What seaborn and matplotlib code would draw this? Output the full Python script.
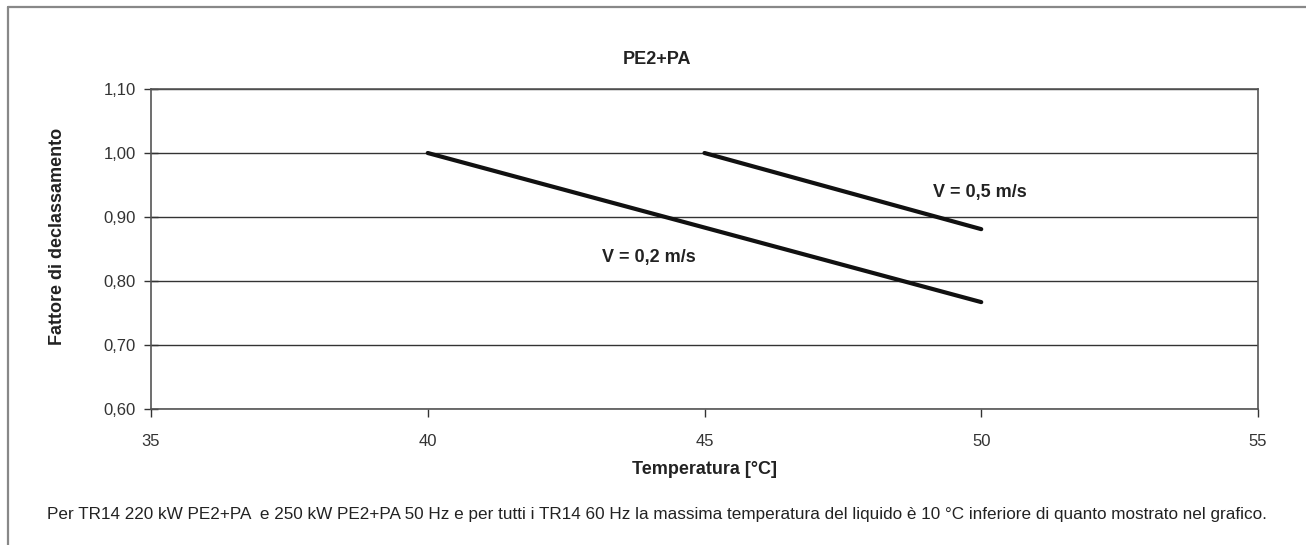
import pandas as pd
import matplotlib.pyplot as plt
import seaborn as sns
from matplotlib.lines import Line2D
from matplotlib.ticker import FuncFormatter

# Data
temp_02 = [40, 50]
fattore_02 = [1.00, 0.767]
temp_05 = [45, 50]
fattore_05 = [1.00, 0.881]
series_names = ["V = 0,2 m/s", "V = 0,5 m/s"]
x_ticks = [35, 40, 45, 50, 55]
y_ticks = [0.60, 0.70, 0.80, 0.90, 1.00, 1.10]

df = pd.DataFrame({
    "Temperatura": temp_02 + temp_05,
    "Fattore": fattore_02 + fattore_05,
    "Serie": [series_names[0]] * len(temp_02) + [series_names[1]] * len(temp_05),
})

sns.set_theme(style="white")
plt.rcParams['font.family'] = ['Liberation Sans', 'DejaVu Sans']

fig = plt.figure(figsize=(13.06, 5.45), dpi=100)
ax = fig.add_axes([151 / 1306, 1 - 409 / 545, (1258 - 151) / 1306, (409 - 89) / 545])

sns.lineplot(data=df, x="Temperatura", y="Fattore", hue="Serie",
             palette=["#111111", "#111111"], linewidth=3, legend=False, ax=ax)

ax.set_xlim(35, 55)
ax.set_ylim(0.60, 1.10)
ax.set_xticks(x_ticks)
ax.set_yticks(y_ticks)
ax.yaxis.set_major_formatter(FuncFormatter(lambda v, p: f"{v:.2f}".replace(".", ",")))
ax.grid(axis="y", color="#333333", linewidth=1)
ax.grid(axis="x", visible=False)
for s in ax.spines.values():
    s.set_color("#555555")
    s.set_linewidth(1.2)
ax.tick_params(axis="x", direction="out", length=6, width=1, color="#333333",
               labelsize=12, labelcolor="#333333", pad=12, bottom=True)
ax.tick_params(axis="y", direction="inout", length=10, width=1, color="#333333",
               labelsize=12, labelcolor="#333333", pad=6, left=True)

ax.set_xlabel("Temperatura [°C]", fontsize=13, fontweight="bold", color="#222222", labelpad=9)
ax.set_ylabel("")
fig.text(58 / 1306, 1 - 236 / 545, "Fattore di declassamento", rotation=90,
         ha="center", va="center", fontsize=13, fontweight="bold", color="#222222")

ax.text(49.13, 0.9375, series_names[1], va="center", fontsize=13, fontweight="bold", color="#222222")
ax.text(43.15, 0.836, series_names[0], va="center", fontsize=13, fontweight="bold", color="#222222")

fig.text(657 / 1306, 1 - 59 / 545, "PE2+PA", ha="center", va="center",
         fontsize=13, fontweight="bold", color="#222222")
fig.text(47 / 1306, 1 - 514 / 545,
         "Per TR14 220 kW PE2+PA  e 250 kW PE2+PA 50 Hz e per tutti i TR14 60 Hz la massima "
         "temperatura del liquido è 10 °C inferiore di quanto mostrato nel grafico.",
         ha="left", va="center", fontsize=12.3, color="#222222")

# outer frame (left and top edges)
fig.add_artist(Line2D([8 / 1306, 8 / 1306], [0, 1 - 7 / 545], color="#888888", linewidth=1.6,
                      transform=fig.transFigure))
fig.add_artist(Line2D([8 / 1306, 1], [1 - 7 / 545, 1 - 7 / 545], color="#888888", linewidth=1.6,
                      transform=fig.transFigure))

fig.savefig("out.png", dpi=100)
